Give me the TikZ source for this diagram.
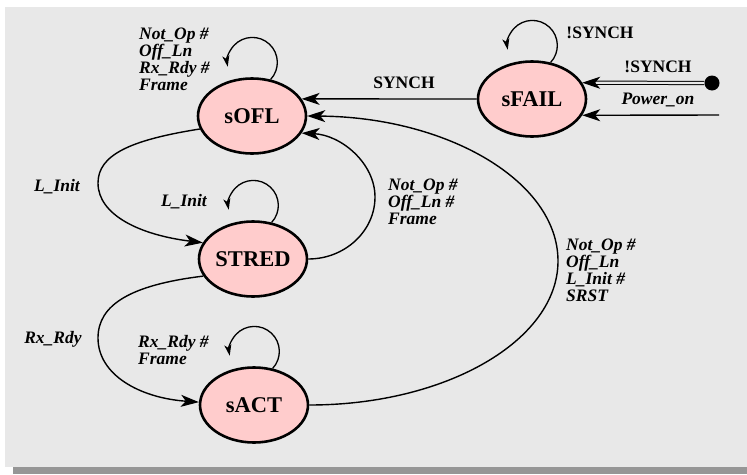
\documentclass[tikz,border=0pt]{standalone}
\usepackage{fontspec}
\setmainfont{Liberation Serif}
\usetikzlibrary{shapes.geometric,arrows.meta}
\definecolor{panelgray}{HTML}{E8E8E8}
\definecolor{shadowgray}{HTML}{969696}
\definecolor{statefill}{HTML}{FFCCCC}
\begin{document}
\begin{tikzpicture}[x=1pt,y=1pt,
  state/.style={ellipse, draw, line width=2.6pt, fill=statefill, minimum width=108pt, minimum height=75pt, inner sep=0pt, font=\fontsize{22.5}{22.5}\selectfont\bfseries},
  edge/.style={line width=1.4pt, -{Stealth[length=18pt,width=12pt,inset=5pt]}},
  loopedge/.style={line width=1.3pt, -{Stealth[length=11pt,width=7pt,inset=3pt]}},
  lbl/.style={font=\fontsize{17.5}{17}\selectfont\bfseries\itshape, align=left, inner sep=0pt},
  ulbl/.style={font=\fontsize{17.5}{17}\selectfont\bfseries, inner sep=0pt}]
\useasboundingbox (0,0) rectangle (747,-474);
\fill[shadowgray] (13,-467) rectangle (747,-474);
\fill[panelgray] (5,-7) rectangle (747,-467);

\node[state] (sOFL) at (252,-116) {sOFL};
\node[state] (sFAIL) at (532,-99) {sFAIL};
\node[state] (STRED) at (253,-259) {STRED};
\node[state] (sACT) at (254,-405) {sACT};
\node[circle, fill=black, inner sep=0pt, minimum size=15pt] (init) at (712,-83) {};
\coordinate (pwr) at (719,-115);

% self loops
\draw[loopedge] (sOFL.63) arc[start angle=-43, end angle=190, radius=25pt];
\draw[loopedge] (sFAIL.63) arc[start angle=-43, end angle=190, radius=25pt];
\draw[loopedge] (STRED.63) arc[start angle=-43, end angle=190, radius=25pt];
\draw[loopedge] (sACT.63) arc[start angle=-43, end angle=190, radius=25pt];

% transitions
\draw[edge] (sFAIL.west) -- (sOFL.19);
\draw[edge] (sACT.east) .. controls (447,-405) and (558,-340) .. (558,-261)
  .. controls (558,-181) and (447,-117) .. (sOFL.east);
\draw[edge] (STRED.east) .. controls (345,-259) and (375,-231) .. (375,-197)
  .. controls (375,-163) and (341,-135) .. (sOFL.-19);
\draw[edge] (sOFL.194) .. controls (130,-140) and (98,-155) .. (98,-183)
  .. controls (98,-215) and (140,-235) .. (STRED.162);
\draw[edge] (STRED.199) .. controls (130,-285) and (98,-305) .. (98,-338)
  .. controls (98,-375) and (140,-398) .. (sACT.177);
\draw[edge, line width=1pt, double=panelgray, double distance=2.2pt] (init) -- (sFAIL.18);
\draw[edge] (pwr) -- (sFAIL.-18);

% labels
\node[lbl, anchor=west] (lOFL) at (139,-59) {Not\_Op \#\\Off\_Ln\\Rx\_Rdy \#\\Frame};
\node[ulbl] (lFAILloop) at (600,-33) {!SYNCH};
\node[ulbl] (lSYNCH) at (404,-83) {SYNCH};
\node[ulbl] (lInitS) at (658,-67) {!SYNCH};
\node[lbl] (lPower) at (658,-100) {Power\_on};
\node[lbl] (lLInit1) at (57,-187) {L\_Init};
\node[lbl] (lLInit2) at (184,-202) {L\_Init};
\node[lbl, anchor=west] (lRet) at (388,-202) {Not\_Op \#\\Off\_Ln \#\\Frame};
\node[lbl, anchor=west] (lBig) at (566,-270) {Not\_Op \#\\Off\_Ln\\L\_Init \#\\SRST};
\node[lbl] (lRx) at (53,-339) {Rx\_Rdy};
\node[lbl, anchor=west] (lACT) at (138,-350) {Rx\_Rdy \#\\Frame};
\end{tikzpicture}
\end{document}
